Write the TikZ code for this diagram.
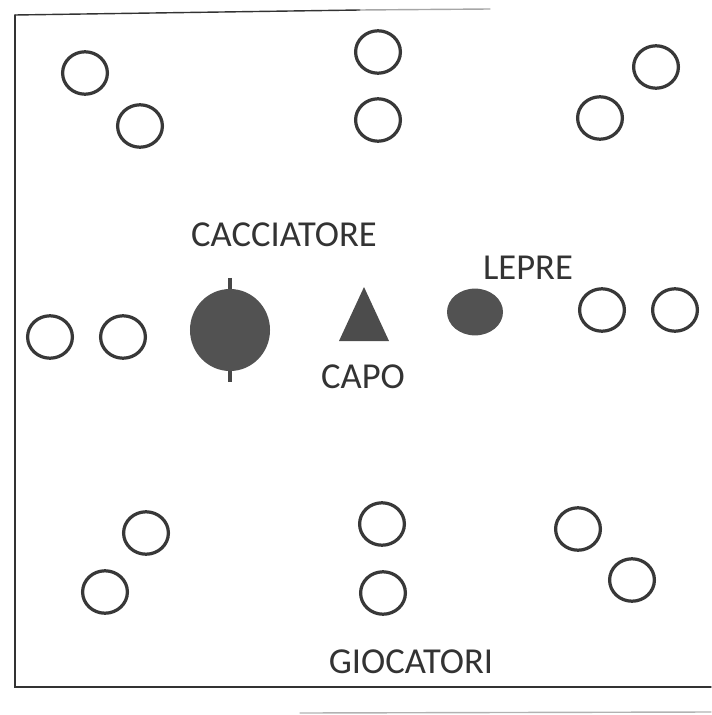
\documentclass[tikz,border=0pt]{standalone}
\usepackage{fontspec}
\setmainfont{Carlito}
\usetikzlibrary{shapes.geometric,backgrounds}

\begin{document}
\begin{tikzpicture}[%
        x = 0.025cm,
        y = -0.025cm,
        line cap = round,
        giocatore/.style = {%
            ellipse,
            draw = black!78,
            line width = 2.3pt,
            minimum width = 1.12cm,
            minimum height = 1.06cm,
            inner sep = 0pt
        },
        pieno/.style = {%
            ellipse,
            fill = black!68,
            inner sep = 0pt
        },
        etichetta/.style = {%
            text = black!80,
            font = \fontsize{26}{30}\selectfont,
            inner sep = 0pt
        }
    ]
        \useasboundingbox (0, 0) rectangle (711, 715);
        % cornice
        \draw[black!80, line width = 1pt] (15, 15) -- (360, 10);
        \draw[black!35, line width = 1pt] (360, 10) -- (490, 9);
        \draw[black!80, line width = 1pt] (15, 15) -- (15, 687) -- (711, 687);
        \draw[black!30, line width = 1pt] (300, 713) -- (711, 712);
        % giocatori
        \foreach \n/\x/\y in {1/85/73, 2/140/126, 3/378/52, 4/378/120,
                              5/656/67, 6/600/118, 7/50/337, 8/123/337,
                              9/602/310, 10/675/310, 11/146/533, 12/105/592,
                              13/382/524, 14/383/593, 15/578/529, 16/632/580}
            \node[giocatore] (g\n) at (\x, \y) {};
        % cacciatore
        \node[pieno, minimum width = 2cm, minimum height = 2.05cm] (cacciatore) at (230, 330) {};
        \begin{pgfonlayer}{background}
            \draw[black!72, line width = 2.8pt, line cap = butt]
                ([yshift = 1.3cm]cacciatore.center) -- ([yshift = -1.3cm]cacciatore.center);
        \end{pgfonlayer}
        % capo
        \coordinate (capo) at (364, 320);
        \fill[black!70] (364, 287) -- (339, 341) -- (389, 341) -- cycle;
        % lepre
        \node[pieno, minimum width = 1.4cm, minimum height = 1.17cm] (lepre) at (475, 312) {};
        % scritte
        \node[etichetta] (tcacciatore) at (284, 235) {CACCIATORE};
        \node[etichetta] (tcapo) at (363, 377) {CAPO};
        \node[etichetta] (tlepre) at (528, 268) {LEPRE};
        \node[etichetta] (tgiocatori) at (411, 662) {GIOCATORI};
    \end{tikzpicture}
\end{document}
